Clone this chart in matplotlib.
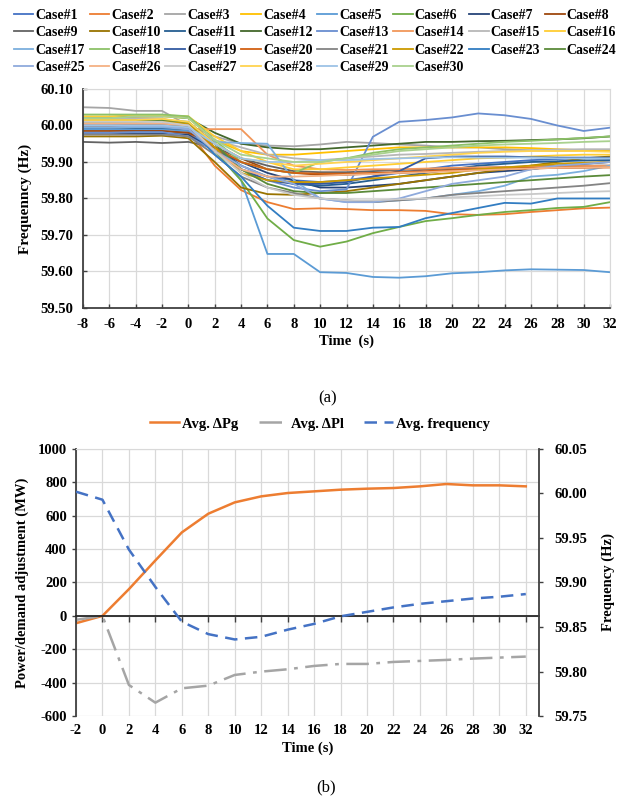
import matplotlib.pyplot as plt
from matplotlib.ticker import FormatStrFormatter
import numpy as np

plt.rcParams['font.family'] = 'Liberation Serif'
plt.rcParams['font.weight'] = 'bold'
plt.rcParams['axes.labelweight'] = 'bold'
plt.rcParams['axes.unicode_minus'] = False

# ---- (a) frequency of every case ----
time_a = list(range(-8, 33, 2))

case01 = [59.99, 59.99, 59.985, 59.985, 59.98, 59.93, 59.88, 59.86, 59.85, 59.845, 59.85, 59.86, 59.87, 59.88, 59.89, 59.895, 59.9, 59.905, 59.908, 59.91, 59.91]
case02 = [60.0, 59.995, 59.995, 59.995, 59.985, 59.89, 59.823, 59.79, 59.771, 59.773, 59.771, 59.768, 59.768, 59.766, 59.757, 59.755, 59.757, 59.763, 59.768, 59.773, 59.775]
case03 = [60.05, 60.048, 60.04, 60.04, 60.0, 59.97, 59.95, 59.945, 59.943, 59.948, 59.955, 59.952, 59.948, 59.945, 59.94, 59.94, 59.935, 59.932, 59.93, 59.932, 59.932]
case04 = [60.02, 60.02, 60.022, 60.025, 60.02, 59.96, 59.93, 59.92, 59.92, 59.925, 59.93, 59.935, 59.94, 59.94, 59.94, 59.94, 59.94, 59.938, 59.935, 59.932, 59.93]
case05 = [59.99, 59.99, 59.99, 59.99, 59.985, 59.93, 59.85, 59.648, 59.648, 59.598, 59.596, 59.585, 59.583, 59.587, 59.595, 59.598, 59.603, 59.606, 59.605, 59.604, 59.598]
case06 = [60.01, 60.01, 60.012, 60.012, 60.005, 59.93, 59.85, 59.745, 59.686, 59.668, 59.682, 59.705, 59.722, 59.738, 59.746, 59.755, 59.763, 59.768, 59.774, 59.777, 59.79]
case07 = [59.98, 59.98, 59.978, 59.978, 59.975, 59.93, 59.9, 59.87, 59.85, 59.83, 59.83, 59.835, 59.84, 59.85, 59.86, 59.87, 59.875, 59.88, 59.89, 59.895, 59.9]
case08 = [59.985, 59.985, 59.985, 59.985, 59.98, 59.95, 59.91, 59.88, 59.87, 59.865, 59.865, 59.868, 59.87, 59.873, 59.876, 59.878, 59.88, 59.882, 59.884, 59.885, 59.886]
case09 = [59.955, 59.953, 59.955, 59.952, 59.955, 59.94, 59.91, 59.89, 59.875, 59.872, 59.872, 59.875, 59.878, 59.88, 59.882, 59.884, 59.886, 59.888, 59.889, 59.89, 59.89]
case10 = [59.97, 59.97, 59.97, 59.972, 59.965, 59.9, 59.83, 59.812, 59.81, 59.815, 59.82, 59.83, 59.84, 59.85, 59.86, 59.87, 59.88, 59.89, 59.9, 59.91, 59.915]
case11 = [59.995, 59.995, 59.993, 59.993, 59.99, 59.94, 59.89, 59.86, 59.84, 59.835, 59.84, 59.85, 59.86, 59.87, 59.88, 59.89, 59.895, 59.9, 59.902, 59.904, 59.905]
case12 = [60.02, 60.022, 60.025, 60.028, 60.02, 59.98, 59.95, 59.94, 59.935, 59.935, 59.94, 59.945, 59.95, 59.955, 59.955, 59.957, 59.958, 59.96, 59.962, 59.965, 59.97]
case13 = [59.98, 59.98, 59.982, 59.982, 59.97, 59.93, 59.88, 59.85, 59.83, 59.82, 59.825, 59.969, 60.01, 60.015, 60.022, 60.033, 60.028, 60.018, 60.0, 59.985, 59.994]
case14 = [60.0, 60.0, 60.0, 60.0, 59.99, 59.99, 59.99, 59.92, 59.89, 59.88, 59.878, 59.88, 59.88, 59.882, 59.884, 59.885, 59.886, 59.887, 59.888, 59.889, 59.89]
case15 = [60.02, 60.02, 60.02, 60.02, 60.0, 59.96, 59.94, 59.92, 59.91, 59.905, 59.91, 59.915, 59.92, 59.922, 59.925, 59.928, 59.93, 59.932, 59.934, 59.935, 59.935]
case16 = [60.025, 60.025, 60.028, 60.028, 60.025, 59.97, 59.93, 59.9, 59.88, 59.88, 59.885, 59.89, 59.895, 59.9, 59.905, 59.91, 59.912, 59.915, 59.918, 59.92, 59.92]
case17 = [59.995, 59.995, 59.995, 59.995, 59.99, 59.955, 59.952, 59.95, 59.85, 59.8, 59.79, 59.79, 59.795, 59.8, 59.81, 59.82, 59.835, 59.86, 59.865, 59.875, 59.89]
case18 = [60.03, 60.03, 60.03, 60.03, 60.025, 59.96, 59.9, 59.88, 59.87, 59.9, 59.91, 59.925, 59.935, 59.94, 59.945, 59.95, 59.955, 59.958, 59.962, 59.966, 59.97]
case19 = [60.0, 60.0, 60.0, 60.0, 59.995, 59.94, 59.88, 59.85, 59.84, 59.84, 59.845, 59.86, 59.875, 59.91, 59.915, 59.915, 59.915, 59.913, 59.912, 59.912, 59.912]
case20 = [60.0, 60.0, 60.002, 60.002, 59.995, 59.94, 59.9, 59.88, 59.87, 59.868, 59.868, 59.87, 59.872, 59.875, 59.878, 59.88, 59.882, 59.884, 59.885, 59.885, 59.885]
case21 = [59.975, 59.975, 59.975, 59.975, 59.97, 59.92, 59.86, 59.83, 59.815, 59.8, 59.795, 59.79, 59.795, 59.8, 59.81, 59.815, 59.82, 59.825, 59.83, 59.835, 59.842]
case22 = [60.01, 60.01, 60.01, 60.012, 60.005, 59.94, 59.87, 59.85, 59.845, 59.845, 59.85, 59.855, 59.86, 59.865, 59.87, 59.88, 59.885, 59.89, 59.895, 59.898, 59.9]
case23 = [60.005, 60.005, 60.005, 60.005, 60.0, 59.92, 59.86, 59.78, 59.72, 59.711, 59.711, 59.72, 59.722, 59.746, 59.76, 59.774, 59.788, 59.786, 59.8, 59.8, 59.8]
case24 = [60.015, 60.015, 60.015, 60.015, 60.01, 59.95, 59.88, 59.84, 59.82, 59.815, 59.815, 59.82, 59.825, 59.83, 59.835, 59.84, 59.845, 59.85, 59.855, 59.86, 59.864]
case25 = [60.0, 60.0, 59.998, 59.998, 59.99, 59.93, 59.89, 59.86, 59.84, 59.8, 59.79, 59.79, 59.8, 59.82, 59.84, 59.85, 59.86, 59.88, 59.89, 59.895, 59.9]
case26 = [60.005, 60.005, 60.005, 60.005, 60.0, 59.93, 59.88, 59.86, 59.86, 59.862, 59.865, 59.867, 59.87, 59.872, 59.875, 59.877, 59.88, 59.882, 59.884, 59.885, 59.886]
case27 = [60.01, 60.01, 60.01, 60.01, 60.0, 59.93, 59.87, 59.83, 59.81, 59.8, 59.795, 59.795, 59.798, 59.8, 59.803, 59.806, 59.81, 59.812, 59.815, 59.818, 59.82]
case28 = [60.015, 60.015, 60.015, 60.018, 60.01, 59.95, 59.91, 59.9, 59.89, 59.895, 59.9, 59.905, 59.91, 59.915, 59.92, 59.925, 59.928, 59.93, 59.93, 59.93, 59.928]
case29 = [60.0, 60.0, 60.0, 60.0, 59.995, 59.95, 59.91, 59.9, 59.9, 59.905, 59.905, 59.908, 59.91, 59.912, 59.913, 59.912, 59.912, 59.912, 59.91, 59.91, 59.91]
case30 = [60.02, 60.02, 60.025, 60.025, 60.02, 59.96, 59.92, 59.91, 59.9, 59.9, 59.91, 59.92, 59.93, 59.935, 59.94, 59.945, 59.948, 59.95, 59.952, 59.955, 59.957]

cases = [case01, case02, case03, case04, case05, case06, case07, case08, case09, case10,
         case11, case12, case13, case14, case15, case16, case17, case18, case19, case20,
         case21, case22, case23, case24, case25, case26, case27, case28, case29, case30]
case_names = [f'Case#{i}' for i in range(1, 31)]

# office-style colour cycle
case_colors = ['#4472C4', '#ED7D31', '#A5A5A5', '#FFC000', '#5B9BD5', '#70AD47',
               '#264478', '#9E480E', '#636363', '#997300', '#255E91', '#43682B',
               '#698ED0', '#F1975A', '#B7B7B7', '#FFCD33', '#7CAFDD', '#8CC168',
               '#335AA1', '#D26012', '#848484', '#CC9A00', '#327DC2', '#5A8A39',
               '#8FAADC', '#F4B183', '#C9C9C9', '#FFD34F', '#9DC3E6', '#A9D18E']

# ---- (b) averages ----
time_b = list(range(-2, 33, 2))
avg_pg = [-44, 0, 160, 332, 500, 612, 680, 716, 736, 746, 756, 762, 766, 776, 790, 782, 782, 776]
avg_pl = [-24, 0, -414, -520, -434, -418, -354, -334, -320, -300, -288, -288, -276, -270, -264, -256, -250, -244]
avg_freq = [60.002, 59.993, 59.937, 59.895, 59.856, 59.842, 59.836, 59.839, 59.847, 59.8535,
            59.862, 59.867, 59.872, 59.876, 59.879, 59.882, 59.884, 59.887]

grid_c = '#d9d9d9'
axis_c = '#404040'
fs = 10.5

fig = plt.figure(figsize=(6.3, 8.01), dpi=100)

# panel (a)
ax_a = fig.add_axes([0.1317, 0.6155, 0.8366, 0.2734])
lines = []
for vals, col, name in zip(cases, case_colors, case_names):
    ln, = ax_a.plot(time_a, vals, color=col, lw=1.3, label=name)
    lines.append(ln)
ax_a.set_xlim(-8, 32)
ax_a.set_ylim(59.5, 60.1)
ax_a.set_xticks(time_a)
ax_a.set_yticks(np.arange(59.5, 60.11, 0.1))
ax_a.yaxis.set_major_formatter(FormatStrFormatter('%.2f'))
ax_a.grid(color=grid_c, lw=0.9)
ax_a.set_axisbelow(True)
for s in ['top', 'right']:
    ax_a.spines[s].set_color(grid_c)
for s in ['left', 'bottom']:
    ax_a.spines[s].set_color(axis_c)
    ax_a.spines[s].set_linewidth(1.3)
ax_a.tick_params(direction='in', length=3, width=1, color=axis_c, labelsize=fs, pad=7)
ax_a.set_xlabel('Time  (s)', fontsize=fs, labelpad=3)
ax_a.set_ylabel('Frequenncy (Hz)', fontsize=11, labelpad=6)

# legend laid out row by row, 8 per row
order = [i for j in range(8) for i in range(j, 30, 8)]
fig.legend([lines[i] for i in order], [case_names[i] for i in order],
           loc='upper center', bbox_to_anchor=(0.5, 0.996), ncol=8, frameon=False,
           fontsize=10, handlelength=1.4, handletextpad=0.15, columnspacing=0.35,
           labelspacing=0.32, borderaxespad=0)

fig.text(0.5206, 1 - 398 / 801, '(a)', ha='center', va='center', fontsize=12, fontweight='normal')

# panel (b)
ax_b = fig.add_axes([0.1206, 0.1061, 0.735, 0.3334])
h1, = ax_b.plot(time_b, avg_pg, color='#ED7D31', lw=1.8, label='Avg. ΔPg')
h2, = ax_b.plot(time_b, avg_pl, color='#A5A5A5', lw=1.8, ls=(0, (9, 3, 1.5, 3)), label='Avg. ΔPl')
ax_b.set_xlim(-2, 33)
ax_b.set_ylim(-600, 1000)
ax_b.set_xticks(time_b)
ax_b.set_yticks(range(-600, 1001, 200))
ax_b.grid(color=grid_c, lw=0.9)
ax_b.set_axisbelow(True)
ax_b.spines['top'].set_color(grid_c)
ax_b.spines['right'].set_visible(False)
ax_b.spines['left'].set_color(axis_c)
ax_b.spines['left'].set_linewidth(1.3)
ax_b.spines['bottom'].set_position(('data', 0))
ax_b.spines['bottom'].set_color('#262626')
ax_b.spines['bottom'].set_linewidth(1.3)
ax_b.tick_params(axis='x', direction='out', length=4, width=1, color=axis_c, labelbottom=False)
ax_b.tick_params(axis='y', direction='out', length=3, width=1, color=axis_c, labelsize=fs)
ax_b.set_ylabel('Power/demand adjustment (MW)', fontsize=fs, labelpad=6)

sec = ax_b.secondary_xaxis('bottom')
sec.set_xticks(time_b)
sec.tick_params(length=0, labelsize=fs, pad=6)
sec.spines['bottom'].set_visible(False)
sec.set_xlabel('Time (s)', fontsize=fs, labelpad=3)

ax_c = ax_b.twinx()
h3, = ax_c.plot(time_b, avg_freq, color='#4472C4', lw=1.8, ls=(0, (5, 3)), label='Avg. frequency')
ax_c.set_ylim(59.75, 60.05)
ax_c.set_yticks(np.arange(59.75, 60.051, 0.05))
ax_c.yaxis.set_major_formatter(FormatStrFormatter('%.2f'))
for s in ['top', 'left', 'bottom']:
    ax_c.spines[s].set_visible(False)
ax_c.spines['right'].set_color(axis_c)
ax_c.spines['right'].set_linewidth(1.3)
ax_c.tick_params(axis='y', direction='out', length=3, width=1, color=axis_c, labelsize=fs, pad=8)
ax_c.set_ylabel('Frequency (Hz)', fontsize=fs, labelpad=10)

fig.legend([h1, h2, h3], ['Avg. ΔPg', 'Avg. ΔPl', 'Avg. frequency'],
           loc='center', bbox_to_anchor=(0.508, 1 - 424 / 801), ncol=3, frameon=False,
           fontsize=fs, handlelength=2.0, handletextpad=0.2, columnspacing=1.4)

fig.text(0.5175, 1 - 787 / 801, '(b)', ha='center', va='center', fontsize=12, fontweight='normal')

fig.savefig('out.png', dpi=100)
